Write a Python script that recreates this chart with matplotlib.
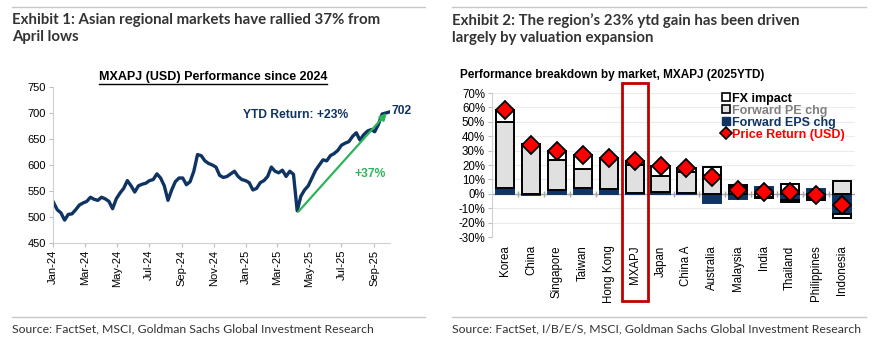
import matplotlib
matplotlib.use('Agg')
import matplotlib.pyplot as plt
import matplotlib.dates as mdates
import matplotlib.transforms as mtransforms
from matplotlib.lines import Line2D
from matplotlib.patches import Rectangle
import numpy as np
import pandas as pd

plt.rcParams['font.family'] = ['Liberation Sans', 'DejaVu Sans']

# ---- Exhibit 1: MXAPJ (USD) index level, weekly
first_week = '2024-01-02'
mxapj_level = [
    528, 514, 508, 494, 505, 506, 514, 523, 527, 530, 538, 534, 532, 538, 535, 530,
    516, 535, 546, 555, 570, 560, 548, 560, 563, 565, 570, 572, 583, 575, 560, 532,
    552, 568, 575, 575, 562, 568, 588, 620, 618, 608, 603, 600, 596, 580, 576, 578,
    583, 588, 578, 572, 570, 566, 552, 555, 566, 570, 578, 596, 588, 585, 590, 578,
    588, 582, 512, 540, 552, 560, 575, 590, 600, 610, 608, 618, 622, 628, 638, 642,
    645, 655, 662, 648, 658, 665, 668, 664, 678, 698, 700, 702,
]
april_low_date, april_low = '2025-04-10', 510
arrow_end_date, arrow_end = '2025-09-25', 700

# ---- Exhibit 2: performance breakdown by market (% , 2025 YTD)
markets = ['Korea', 'China', 'Singapore', 'Taiwan', 'Hong Kong', 'MXAPJ', 'Japan',
           'China A', 'Australia', 'Malaysia', 'India', 'Thailand', 'Philippines', 'Indonesia']
eps_chg = [4, -0.5, 2.5, 4, 3.5, 0.5, 1, 0.3, -6.5, -3.5, 4.5, -4, 3.5, -14]
pe_chg = [46, 34, 21, 13.5, 21.5, 19.5, 11.5, 14.7, 13, 4.5, -2, -1.5, -3, 9]
fx_impact = [8, 0.5, 6, 9.5, 0, 3, 6.5, 3, 5.5, 1.5, -1, 7, -1, -3]
price_return = [58, 34, 29.5, 27, 25, 23, 19.5, 18, 12, 2.5, 1.5, 1.5, -0.5, -8]

navy = '#0f3463'
grey_txt = '#333333'

fig = plt.figure(figsize=(8.8, 3.41), dpi=100)
W, H = 880, 341


def fx(px):
    return px / W


def fy(py):
    return 1 - py / H


narrow = ['Lato', 'Liberation Sans', 'DejaVu Sans']

# header / footer rules and texts
for x0, x1 in [(12, 425), (452, 866)]:
    fig.add_artist(Line2D([fx(x0), fx(x1)], [fy(7), fy(7)], color='#c8c8c8', lw=1))
    fig.add_artist(Line2D([fx(x0), fx(x1)], [fy(317), fy(317)], color='#c8c8c8', lw=1))

fig.text(fx(12), fy(13), 'Exhibit 1: Asian regional markets have rallied 37% from\nApril lows',
         family=narrow, fontsize=10.8, fontweight='bold', color=grey_txt, va='top',
         linespacing=1.3)
fig.text(fx(452), fy(13), 'Exhibit 2: The region\u2019s 23% ytd gain has been driven\nlargely by valuation expansion',
         family=narrow, fontsize=10.8, fontweight='bold', color=grey_txt, va='top',
         linespacing=1.3)
fig.text(fx(12), fy(329), 'Source: FactSet, MSCI, Goldman Sachs Global Investment Research',
         family=narrow, fontsize=8.8, color=grey_txt, va='center')
fig.text(fx(452), fy(329), 'Source: FactSet, I/B/E/S, MSCI, Goldman Sachs Global Investment Research',
         family=narrow, fontsize=8.8, color=grey_txt, va='center')

# ---------------- left chart
ax1 = fig.add_axes([fx(53), fy(243), fx(390) - fx(53), fy(87) - fy(243)])
dates = pd.date_range(first_week, periods=len(mxapj_level), freq='7D')
ax1.plot(dates, mxapj_level, color=navy, lw=2.4, solid_joinstyle='round')
ax1.set_ylim(450, 750)
ax1.set_yticks(range(450, 751, 50))
ax1.set_xlim(pd.Timestamp('2024-01-01'), pd.Timestamp('2025-10-01'))
ax1.xaxis.set_major_locator(mdates.MonthLocator(bymonth=[1, 3, 5, 7, 9, 11]))
ax1.xaxis.set_major_formatter(mdates.DateFormatter('%b-%y'))
for lab in ax1.get_xticklabels():
    lab.set_rotation(90)
ax1.tick_params(axis='both', labelsize=8, color='#bfbfbf', length=3, pad=2)
for s in ['top', 'right']:
    ax1.spines[s].set_visible(False)
for s in ['left', 'bottom']:
    ax1.spines[s].set_color('#d0d0d0')

ax1.annotate('', xy=(pd.Timestamp(arrow_end_date), arrow_end),
             xytext=(pd.Timestamp(april_low_date), april_low),
             arrowprops=dict(arrowstyle='-|>', color='#2db45a', lw=1.6,
                             mutation_scale=10, shrinkA=0, shrinkB=0))
ax1.text(pd.Timestamp('2025-04-05'), 697, 'YTD Return: +23%', color=navy,
         fontsize=8.7, fontweight='bold', ha='center', va='center')
ax1.text(pd.Timestamp('2025-10-04'), 703, '702', color=navy,
         fontsize=8.7, fontweight='bold', ha='left', va='center', clip_on=False)
ax1.text(pd.Timestamp('2025-08-25'), 582, '+37%', color='#2db45a',
         fontsize=8.7, fontweight='bold', ha='center', va='center')

t1 = fig.text(fx(213), fy(77), 'MXAPJ (USD) Performance since 2024', fontsize=9,
              fontweight='bold', ha='center', va='center')

# ---------------- right chart
ax2 = fig.add_axes([fx(492), fy(237), fx(855) - fx(492), fy(93) - fy(237)])
x = np.arange(len(markets))
pos_base = np.zeros(len(markets))
neg_base = np.zeros(len(markets))
series = [
    (eps_chg, navy, navy, 'Forward EPS chg'),
    (pe_chg, '#e0e0e0', 'black', 'Forward PE chg'),
    (fx_impact, 'white', 'black', 'FX impact'),
]
for vals, fc, ec, name in series:
    v = np.array(vals, dtype=float)
    bottom = np.where(v >= 0, pos_base, neg_base)
    ax2.bar(x, v, bottom=bottom, width=0.7, color=fc, edgecolor=ec,
            linewidth=1.4, zorder=3)
    pos_base += np.clip(v, 0, None)
    neg_base += np.clip(v, None, 0)

ax2.plot(x, price_return, 'D', color='#ff0000', markeredgecolor='black',
         markeredgewidth=1.3, markersize=9, zorder=5)

ax2.axhline(0, color='#a6a6a6', lw=1, zorder=2)
ax2.plot(x[:-1] + 0.5, np.zeros(len(x) - 1), '|', color='#a6a6a6', markersize=5, zorder=2)
ax2.set_xlim(-0.5, len(markets) - 0.5)
ax2.set_ylim(-30, 70)
ax2.set_yticks(range(-30, 71, 10))
ax2.set_yticklabels([f'{v}%' for v in range(-30, 71, 10)])
ax2.yaxis.grid(True, color='#ececec', lw=0.8, zorder=0)
ax2.set_axisbelow(True)
ax2.set_xticks(x)
ax2.set_xticklabels(markets, rotation=90)
ax2.tick_params(axis='x', length=0, labelsize=8.3, pad=6)
ax2.tick_params(axis='y', labelsize=8.3, color='#bfbfbf', length=3, pad=2)
for s in ['top', 'right', 'bottom']:
    ax2.spines[s].set_visible(False)
ax2.spines['left'].set_color('#d0d0d0')

# small legend keys like the original
key_fx = Line2D([], [], ls='', marker='s', markersize=6, markerfacecolor='white',
                markeredgecolor='black', markeredgewidth=1.2)
key_pe = Line2D([], [], ls='', marker='s', markersize=6, markerfacecolor='#e0e0e0',
                markeredgecolor='black', markeredgewidth=1.2)
key_eps = Line2D([], [], ls='', marker='s', markersize=6, markerfacecolor=navy,
                 markeredgecolor=navy)
key_pr = Line2D([], [], ls='', marker='D', markersize=6, markerfacecolor='#ff0000',
                markeredgecolor='black', markeredgewidth=1.2)
leg = ax2.legend([key_fx, key_pe, key_eps, key_pr],
                 ['FX impact', 'Forward PE chg', 'Forward EPS chg', 'Price Return (USD)'],
                 loc='upper right', bbox_to_anchor=(0.99, 1.045), frameon=False,
                 fontsize=9, handlelength=0.6, handletextpad=0.2,
                 labelspacing=0.0, borderaxespad=0.1)
for txt, col in zip(leg.get_texts(), ['black', '#808080', navy, '#ff0000']):
    txt.set_color(col)
    txt.set_fontweight('bold')

fig.text(fx(460), fy(75), 'Performance breakdown by market, MXAPJ (2025YTD)', fontsize=8.5,
         fontweight='bold', ha='left', va='center')

# red frame around the regional aggregate
trans = mtransforms.blended_transform_factory(ax2.transData, ax2.transAxes)
ax2.add_patch(Rectangle((4.5, -0.444), 1.0, 1.513, transform=trans, fill=False,
                        edgecolor='#c00000', lw=2, clip_on=False, zorder=6))

# underline the left chart title
fig.canvas.draw()
bb = t1.get_window_extent().transformed(fig.transFigure.inverted())
fig.add_artist(Line2D([bb.x0, bb.x1], [bb.y0 - 0.004, bb.y0 - 0.004], color='black', lw=1))

fig.savefig('out.png', dpi=100)
